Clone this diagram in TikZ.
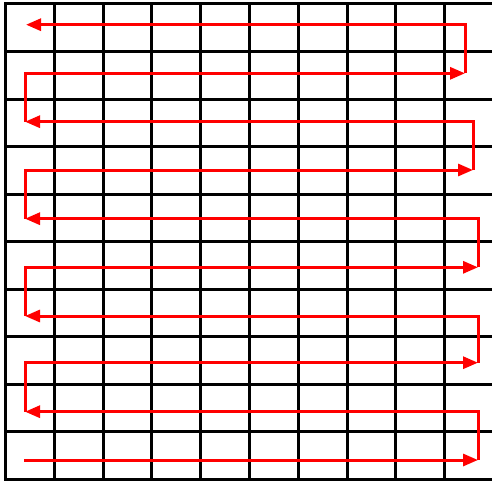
\documentclass[tikz,border=0pt]{standalone}
\usepackage{tikz}
\usetikzlibrary{arrows.meta}

\begin{document}
\begin{tikzpicture}[
    x=1pt, y=-1pt,
    gridline/.style={line width=3pt, line cap=rect},
    arrow/.style={-{Triangle[length=15pt,width=12pt]}, red, line width=3pt}
]
\useasboundingbox (0,0) rectangle (492,484);

% grid
\foreach \i in {0,...,9}
    \draw[gridline] (5.5+48.8*\i,4) -- (5.5+48.8*\i,479.3);
\foreach \j in {0,...,10}
    \draw[gridline] (5.5,4+47.53*\j) -- (492,4+47.53*\j);

% snake path
\coordinate (s0) at (24,460);
\coordinate (e0) at (478,460);
\coordinate (c1) at (478,411.7);
\coordinate (e1) at (25,411.7);
\coordinate (c2) at (25,362.7);
\coordinate (e2) at (478,362.7);
\coordinate (c3) at (478,316);
\coordinate (e3) at (25,316);
\coordinate (c4) at (25,267.3);
\coordinate (e4) at (478,267.3);
\coordinate (c5) at (478,218.7);
\coordinate (e5) at (25,218.7);
\coordinate (c6) at (25,170);
\coordinate (e6) at (473,170);
\coordinate (c7) at (473,121.7);
\coordinate (e7) at (25,121.7);
\coordinate (c8) at (25,73.3);
\coordinate (e8) at (465,73.3);
\coordinate (c9) at (465,24.7);
\coordinate (e9) at (26,24.7);

\draw[arrow] (s0) -- (e0);
\draw[arrow] (e0) -- (c1) -- (e1);
\draw[arrow] (e1) -- (c2) -- (e2);
\draw[arrow] (e2) -- (c3) -- (e3);
\draw[arrow] (e3) -- (c4) -- (e4);
\draw[arrow] (e4) -- (c5) -- (e5);
\draw[arrow] (e5) -- (c6) -- (e6);
\draw[arrow] (e6) -- (c7) -- (e7);
\draw[arrow] (e7) -- (c8) -- (e8);
\draw[arrow] (e8) -- (c9) -- (e9);
\end{tikzpicture}
\end{document}
